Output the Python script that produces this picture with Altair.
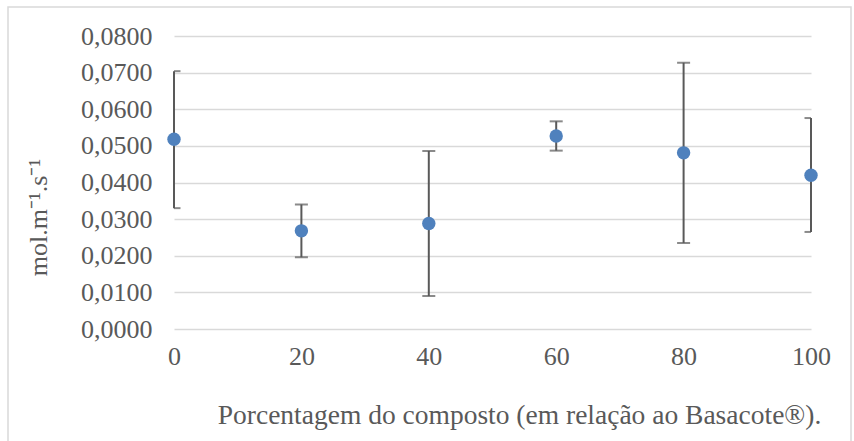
import altair as alt
import pandas as pd

x_vals = [0, 20, 40, 60, 80, 100]
y_mean = [0.0518, 0.0268, 0.0288, 0.0527, 0.0481, 0.0420]
y_upper = [0.0704, 0.0340, 0.0486, 0.0567, 0.0727, 0.0576]
y_lower = [0.0330, 0.0196, 0.0090, 0.0487, 0.0235, 0.0265]
y_ticks = [0.0, 0.01, 0.02, 0.03, 0.04, 0.05, 0.06, 0.07, 0.08]
x_ticks = [0, 20, 40, 60, 80, 100]

df = pd.DataFrame({"x": x_vals, "y": y_mean, "hi": y_upper, "lo": y_lower})

FONT = "Liberation Serif"
GRAY = "#595959"

xs = alt.Scale(domain=[0, 100], nice=False)
ys = alt.Scale(domain=[0, 0.08], nice=False)

xaxis = alt.Axis(
    values=x_ticks, grid=False, domain=False, ticks=False,
    labelFont=FONT, labelFontSize=26, labelColor=GRAY, labelPadding=14,
    labelFlush=False, labelOverlap=False,
    title="Porcentagem do composto (em relação ao Basacote®).",
    titleFont=FONT, titleFontSize=27.5, titleFontWeight="normal", titleColor=GRAY,
    titleX=345, titleY=94, titleBaseline="alphabetic", titleAnchor="middle",
)
yaxis = alt.Axis(
    values=y_ticks, tickCount=9, grid=True, gridColor="#d9d9d9", gridWidth=1.5,
    domain=False, ticks=False, labelOverlap=False,
    labelFont=FONT, labelFontSize=26, labelColor=GRAY, labelPadding=22,
    labelExpr="replace(format(datum.value, '.4f'), '.', ',')",
    title="mol.m⁻¹.s⁻¹",
    titleFont=FONT, titleFontSize=26, titleFontWeight="normal", titleColor=GRAY,
    titleX=-128, titleY=181, titleAngle=-90, titleBaseline="alphabetic", titleAnchor="middle",
)

base = alt.Chart(df)

rules = base.mark_rule(color=GRAY, strokeWidth=2).encode(
    x=alt.X("x:Q", scale=xs, axis=xaxis),
    y=alt.Y("lo:Q", scale=ys, axis=yaxis, title="mol.m⁻¹.s⁻¹"),
    y2="hi:Q",
)
cap_hi = base.mark_tick(color=GRAY, thickness=2, size=13, orient="horizontal", clip=True).encode(
    x=alt.X("x:Q", scale=xs, axis=xaxis), y=alt.Y("hi:Q", scale=ys, axis=yaxis, title="mol.m⁻¹.s⁻¹")
)
cap_lo = base.mark_tick(color=GRAY, thickness=2, size=13, orient="horizontal", clip=True).encode(
    x=alt.X("x:Q", scale=xs, axis=xaxis), y=alt.Y("lo:Q", scale=ys, axis=yaxis, title="mol.m⁻¹.s⁻¹")
)
points = base.mark_point(filled=True, shape="circle", size=180, color="#4F81BD", opacity=1).encode(
    x=alt.X("x:Q", scale=xs, axis=xaxis), y=alt.Y("y:Q", scale=ys, axis=yaxis, title="mol.m⁻¹.s⁻¹")
)

frame = alt.Chart(pd.DataFrame({"a": [0]})).mark_rect(
    fill=None, stroke="#d9d9d9", strokeWidth=1.5
).encode(
    x=alt.value(-166), x2=alt.value(677), y=alt.value(-29), y2=alt.value(420)
)

chart = alt.layer(frame, rules, cap_hi, cap_lo, points).properties(
    width=637, height=293,
    background="white",
    autosize=alt.AutoSizeParams(type="none"),
    padding={"left": 174, "top": 36, "right": 43, "bottom": 112},
).configure_view(stroke=None)

chart.save("out.html", embed_options={"renderer": "svg", "actions": False})
